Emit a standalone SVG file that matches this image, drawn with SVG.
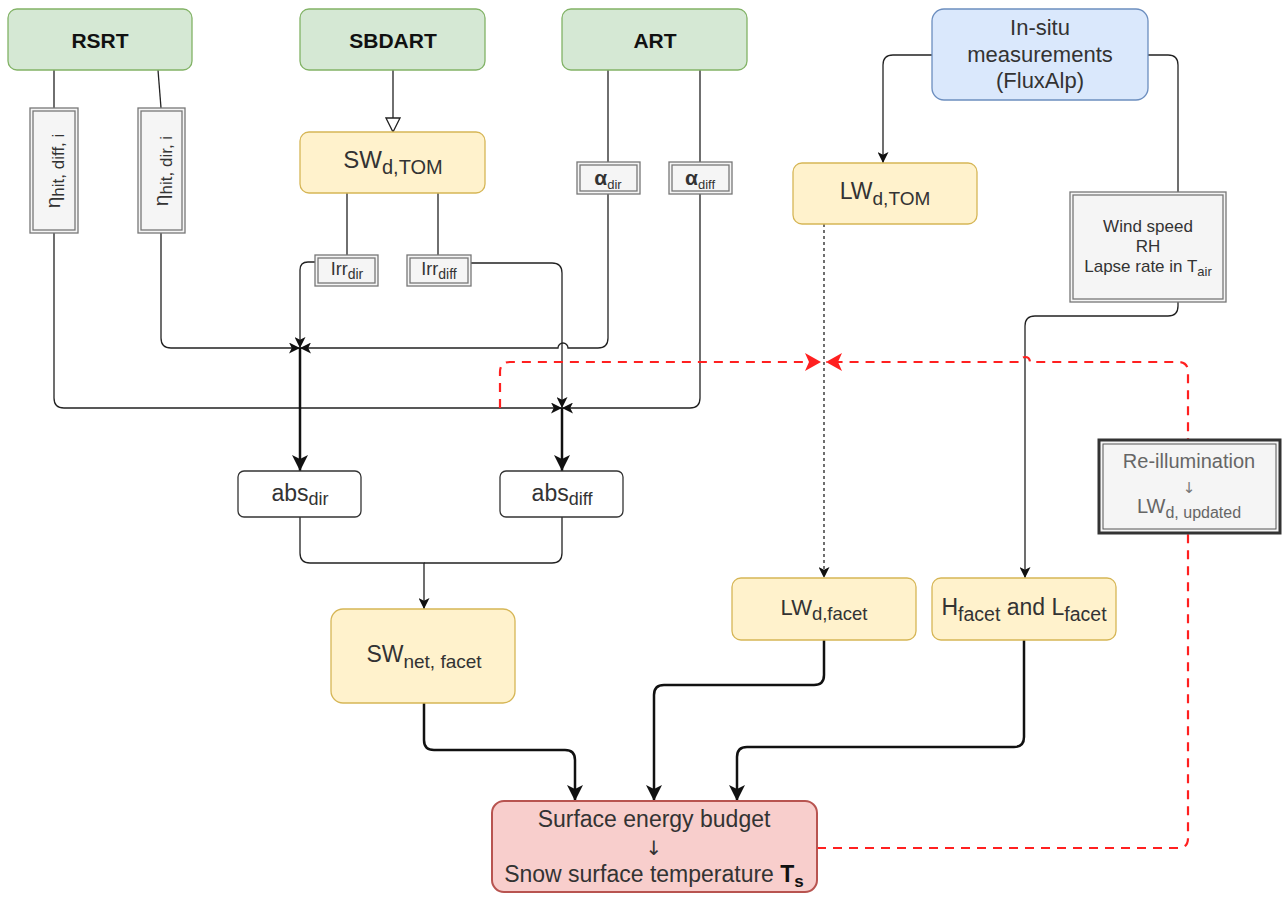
<svg xmlns="http://www.w3.org/2000/svg" width="1282" height="897" viewBox="0 0 1282 897">
<style>
text{font-family:"Liberation Sans",Arial,sans-serif;fill:#333}
.title{font-weight:bold;font-size:21px;fill:#111}
.arr{font-family:"DejaVu Sans",sans-serif}
.green{fill:#d5e8d4;stroke:#82b366;stroke-width:1.3}
.yellow{fill:#fff2cc;stroke:#d6b656;stroke-width:1.3}
.blue{fill:#dae8fc;stroke:#6c8ebf;stroke-width:1.3}
.red{fill:#f8cecc;stroke:#b85450;stroke-width:2}
.white{fill:#fff;stroke:#333;stroke-width:1.3}
.grey{fill:#f5f5f5;stroke:#777;stroke-width:1.3}
.inner{fill:none;stroke:#777;stroke-width:1.3}
.c{fill:none;stroke:#222;stroke-width:1.3}
.thick{fill:none;stroke:#111;stroke-width:2.5}
.dot{fill:none;stroke:#222;stroke-width:1.3;stroke-dasharray:3 3}
.rd{fill:none;stroke:#ff2020;stroke-width:2.2;stroke-dasharray:9 7}
</style>
<defs>
<marker id="a" markerUnits="userSpaceOnUse" markerWidth="11" markerHeight="11" viewBox="0 0 11 11" refX="11" refY="5.5" orient="auto"><path d="M0,0 L11,5.5 L0,11 L2.8,5.5 Z" fill="#111"/></marker>
<marker id="at" markerUnits="userSpaceOnUse" markerWidth="16" markerHeight="16" viewBox="0 0 16 16" refX="16" refY="8" orient="auto"><path d="M0,0 L16,8 L0,16 L4,8 Z" fill="#111"/></marker>
<marker id="ar" markerUnits="userSpaceOnUse" markerWidth="16" markerHeight="18" viewBox="0 0 16 18" refX="16" refY="9" orient="auto"><path d="M0,0 L16,9 L0,18 L4,9 Z" fill="#ff2020"/></marker>
<marker id="ao" markerUnits="userSpaceOnUse" markerWidth="16" markerHeight="16" viewBox="0 0 16 16" refX="15" refY="8" orient="auto"><path d="M1,1 L15,8 L1,15 Z" fill="#fff" stroke="#222" stroke-width="1.3"/></marker>
</defs>

<g id="connectors">
<path class="c" d="M54,70 V108"/>
<path class="c" d="M54,233 V398 Q54,408 64,408 H562" marker-end="url(#a)"/>
<path class="c" d="M158,70 L161,108"/>
<path class="c" d="M161,233 V338 Q161,348 171,348 H300" marker-end="url(#a)"/>
<path class="c" d="M608,70 V162"/>
<path class="c" d="M608,194 V338 Q608,348 598,348 H568 A5,5 0 0 0 558,348 H300" marker-end="url(#a)"/>
<path class="c" d="M700,70 V162"/>
<path class="c" d="M700,194 V398 Q700,408 690,408 H562" marker-end="url(#a)"/>
<path class="c" d="M393,70 V132" marker-end="url(#ao)"/>
<path class="c" d="M347,193 V255"/>
<path class="c" d="M438,193 V255"/>
<path class="c" d="M315,262 H308 Q300,262 300,270 V348" marker-end="url(#a)"/>
<path class="c" d="M471,263 H552 Q562,263 562,273 V408" marker-end="url(#a)"/>
<path class="thick" d="M300,348 V471" marker-end="url(#at)"/>
<path class="thick" d="M562,408 V471" marker-end="url(#at)"/>
<path class="c" d="M300,517 V553 Q300,563 310,563 H424 V609" marker-end="url(#a)"/>
<path class="c" d="M562,517 V553 Q562,563 552,563 H424"/>
<path class="thick" d="M424,703 V740 Q424,750 434,750 H565 Q575,750 575,760 V801" marker-end="url(#at)"/>
<path class="thick" d="M824,640 V675 Q824,685 814,685 H664 Q654,685 654,695 V801" marker-end="url(#at)"/>
<path class="thick" d="M1024,640 V737 Q1024,747 1014,747 H747 Q737,747 737,757 V801" marker-end="url(#at)"/>
<path class="c" d="M932,55 H893 Q883,55 883,65 V163" marker-end="url(#a)"/>
<path class="c" d="M1148,55 H1168 Q1178,55 1178,65 V192"/>
<path class="c" d="M1178,302 V306 Q1178,316 1168,316 H1035 Q1025,316 1025,326 V578" marker-end="url(#a)"/>
<path class="dot" d="M824,224 V578" marker-end="url(#a)"/>
<path class="rd" d="M817,848 H1178 Q1188,848 1188,838 V372 Q1188,362 1178,362 H1030 A5,5 0 0 0 1020,362 H826" marker-end="url(#ar)"/>
<path class="rd" d="M500,408 V372 Q500,362 510,362 H821" marker-end="url(#ar)"/>
</g>

<g id="rsrt"><rect class="green" x="8" y="9" width="184" height="61" rx="9"/><text class="title" x="100" y="48" text-anchor="middle">RSRT</text></g>
<g id="sbdart"><rect class="green" x="300" y="9" width="185" height="61" rx="9"/><text class="title" x="393" y="48" text-anchor="middle">SBDART</text></g>
<g id="art"><rect class="green" x="562" y="9" width="185" height="61" rx="9"/><text class="title" x="655" y="48" text-anchor="middle">ART</text></g>
<g id="insitu"><rect class="blue" x="932" y="9" width="216" height="91" rx="12"/>
<text x="1040" y="35" text-anchor="middle" font-size="22">In-situ</text>
<text x="1040" y="62" text-anchor="middle" font-size="22">measurements</text>
<text x="1040" y="88" text-anchor="middle" font-size="22">(FluxAlp)</text></g>

<g id="eta-diff"><rect class="grey" x="30" y="108" width="48" height="125"/><rect class="inner" x="33" y="111" width="42" height="119"/>
<text transform="translate(60,171) rotate(-90)" text-anchor="middle" font-size="21">η<tspan font-size="17" dy="4">hit, diff, i</tspan></text></g>
<g id="eta-dir"><rect class="grey" x="138" y="108" width="47" height="125"/><rect class="inner" x="141" y="111" width="41" height="119"/>
<text transform="translate(168,171) rotate(-90)" text-anchor="middle" font-size="21">η<tspan font-size="17" dy="4">hit, dir, i</tspan></text></g>

<g id="swdtom"><rect class="yellow" x="300" y="132" width="185" height="61" rx="9"/><text x="393" y="168" text-anchor="middle" font-size="24">SW<tspan font-size="20" dy="6">d,TOM</tspan></text></g>
<g id="irrdir"><rect class="grey" x="315" y="255" width="63" height="31"/><rect class="inner" x="318" y="258" width="57" height="25"/><text x="347" y="275" text-anchor="middle" font-size="18">Irr<tspan font-size="14" dy="4">dir</tspan></text></g>
<g id="irrdiff"><rect class="grey" x="407" y="255" width="64" height="31"/><rect class="inner" x="410" y="258" width="58" height="25"/><text x="439" y="275" text-anchor="middle" font-size="18">Irr<tspan font-size="14" dy="4">diff</tspan></text></g>
<g id="adir"><rect class="grey" x="577" y="162" width="63" height="32"/><rect class="inner" x="580" y="165" width="57" height="26"/><text x="608" y="185" text-anchor="middle" font-size="21" font-weight="bold">α<tspan font-size="13" font-weight="normal" dy="4">dir</tspan></text></g>
<g id="adiff"><rect class="grey" x="669" y="162" width="63" height="32"/><rect class="inner" x="672" y="165" width="57" height="26"/><text x="700" y="185" text-anchor="middle" font-size="21" font-weight="bold">α<tspan font-size="13" font-weight="normal" dy="4">diff</tspan></text></g>

<g id="lwdtom"><rect class="yellow" x="793" y="163" width="184" height="61" rx="9"/><text x="885" y="199" text-anchor="middle" font-size="23">LW<tspan font-size="19" dy="6">d,TOM</tspan></text></g>
<g id="wind"><rect class="grey" x="1070" y="192" width="156" height="110"/><rect class="inner" x="1073" y="195" width="150" height="104"/>
<text x="1148" y="232" text-anchor="middle" font-size="17">Wind speed</text>
<text x="1148" y="252" text-anchor="middle" font-size="17">RH</text>
<text x="1148" y="272" text-anchor="middle" font-size="17">Lapse rate in T<tspan font-size="13" dy="4">air</tspan></text></g>

<g id="absdir"><rect class="white" x="238" y="471" width="123" height="46" rx="6"/><text x="300" y="501" text-anchor="middle" font-size="23">abs<tspan font-size="18" dy="4">dir</tspan></text></g>
<g id="absdiff"><rect class="white" x="500" y="471" width="123" height="46" rx="6"/><text x="562" y="501" text-anchor="middle" font-size="23">abs<tspan font-size="18" dy="4">diff</tspan></text></g>

<g id="swnet"><rect class="yellow" x="331" y="609" width="184" height="94" rx="12" stroke-width="2.2"/><text x="424" y="662" text-anchor="middle" font-size="23">SW<tspan font-size="19" dy="6">net, facet</tspan></text></g>
<g id="lwdfacet"><rect class="yellow" x="732" y="578" width="184" height="62" rx="9"/><text x="824" y="615" text-anchor="middle" font-size="22">LW<tspan font-size="18.5" dy="5">d,facet</tspan></text></g>
<g id="hl"><rect class="yellow" x="932" y="578" width="184" height="62" rx="9"/><text x="1024" y="615" text-anchor="middle" font-size="23">H<tspan font-size="19.5" dy="6">facet</tspan><tspan dy="-6"> and L</tspan><tspan font-size="19.5" dy="6">facet</tspan></text></g>

<g id="reillum"><rect x="1099" y="440" width="181" height="93" fill="#f5f5f5" stroke="#333" stroke-width="3"/><rect x="1103" y="444" width="173" height="85" fill="none" stroke="#555" stroke-width="1"/>
<text x="1189" y="468" text-anchor="middle" font-size="20" style="fill:#666">Re-illumination</text>
<text class="arr" x="1189" y="493" text-anchor="middle" font-size="15" style="fill:#777">↓</text>
<text x="1189" y="513" text-anchor="middle" font-size="20" style="fill:#666">LW<tspan font-size="16" dy="5">d, updated</tspan></text></g>

<g id="seb"><rect class="red" x="492" y="801" width="325" height="91" rx="12"/>
<text x="654" y="827" text-anchor="middle" font-size="23">Surface energy budget</text>
<text class="arr" x="654" y="855" text-anchor="middle" font-size="20">↓</text>
<text x="654" y="882" text-anchor="middle" font-size="23">Snow surface temperature <tspan font-weight="bold" style="fill:#111">T</tspan><tspan font-weight="bold" font-size="17" dy="5" style="fill:#111">s</tspan></text></g>
</svg>
